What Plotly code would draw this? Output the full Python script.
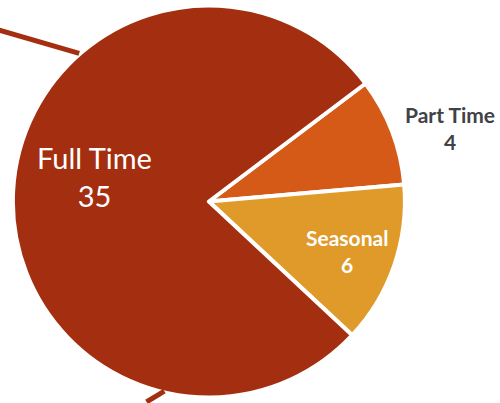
import plotly.graph_objects as go

categories = ["Part Time", "Seasonal", "Full Time"]
values = [4, 6, 35]
colors = ["#D55A18", "#E09A29", "#A42F10"]
text_positions = ["outside", "none", "none"]

W, H = 500, 403
cx, cy, r = 211, 203.5, 198

fig = go.Figure(go.Pie(
    labels=categories,
    values=values,
    sort=False,
    direction="clockwise",
    rotation=53,
    marker=dict(colors=colors, line=dict(color="white", width=4)),
    textposition=text_positions,
    texttemplate="%{label}<br>%{value}",
    textfont=dict(color="#3F4247", size=21, family="Lato", weight=700),
    showlegend=False,
    hoverinfo="label+value",
    domain=dict(x=[(cx - r) / W, (cx + r) / W], y=[(H - cy - r) / H, (H - cy + r) / H]),
))

# Inside labels placed where the reference shows them
big = categories.index("Full Time")
fig.add_annotation(
    x=95 / W, y=1 - 178 / H, xref="paper", yref="paper",
    text=f"{categories[big]}<br>{values[big]}",
    showarrow=False, xanchor="center", yanchor="middle",
    font=dict(family="Lato", size=29, color="#FFFFFF"),
)
sea = categories.index("Seasonal")
fig.add_annotation(
    x=350 / W, y=1 - 254 / H, xref="paper", yref="paper",
    text=f"{categories[sea]}<br>{values[sea]}",
    showarrow=False, xanchor="center", yanchor="middle",
    font=dict(family="Lato", size=21, color="#FFFFFF", weight=700),
)

# Stray leader-line fragments visible at the edges of the reference
line_col = "#A42F10"
fig.add_shape(type="line", xref="paper", yref="paper",
              x0=-2 / W, y0=1 - 30 / H, x1=80 / W, y1=1 - 54 / H,
              line=dict(color=line_col, width=5))
fig.add_shape(type="line", xref="paper", yref="paper",
              x0=148 / W, y0=1 - 406 / H, x1=166 / W, y1=1 - 395 / H,
              line=dict(color=line_col, width=5))

fig.update_layout(
    width=W, height=H,
    margin=dict(l=0, r=0, t=0, b=0),
    paper_bgcolor="white",
    plot_bgcolor="white",
    font=dict(family="Lato"),
)

fig.write_html("out.html", config={"displayModeBar": False},
               post_script="document.body.style.margin='0';document.body.style.overflow='hidden';")
